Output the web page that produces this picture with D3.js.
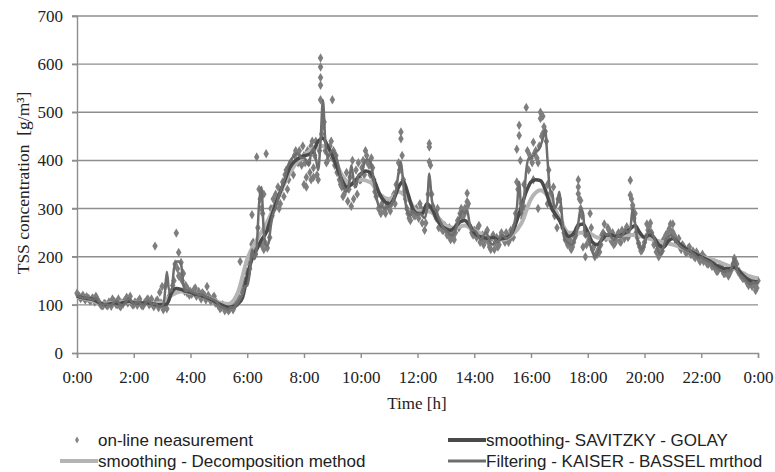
<!DOCTYPE html>
<html><head><meta charset="utf-8">
<script src="https://cdn.jsdelivr.net/npm/d3@7/dist/d3.min.js"></script>
<style>body{margin:0;background:#fff}svg{display:block}</style>
</head><body><svg id="c" width="775" height="472"></svg>
<script>
// ---- data ----
const tickHours = [0,2,4,6,8,10,12,14,16,18,20,22,24];
const tickLabels = ["0:00","2:00","4:00","6:00","8:00","10:00","12:00","14:00","16:00","18:00","20:00","22:00","0:00"];
const yTicks = [0,100,200,300,400,500,600,700];

// on-line measurement, every 5 minutes from 0:00 to 24:00
const measured = [
 124,118,116,114,117,113,110,112,118,108,100,98,
 102,98,104,112,106,100,98,104,108,116,110,104,
 100,104,108,102,98,106,112,104,100,222,110,126,
 138,96,92,118,128,150,249,209,188,165,140,132,
 128,125,135,122,118,125,120,138,115,110,118,105,
 100,95,98,92,88,96,90,100,105,112,125,150,
 190,175,287,215,407,340,225,215,414,260,300,320,
 330,345,310,355,370,340,380,395,410,400,420,390,
 410,365,395,430,385,440,360,613,470,420,400,430,
 405,390,375,360,345,330,375,340,305,320,380,395,
 360,400,420,395,370,385,350,330,300,310,295,305,
 300,310,330,350,395,459,360,320,290,275,300,285,
 290,310,270,255,300,435,330,295,280,260,270,255,
 255,245,235,240,250,275,290,280,300,332,265,250,
 255,240,265,235,225,250,230,215,245,230,220,240,
 240,230,245,235,250,265,423,473,310,350,510,380,
 404,438,420,395,500,492,460,350,330,300,285,260,
 320,270,250,240,225,215,230,245,360,300,220,200,
 250,290,215,200,205,210,245,268,240,255,232,225,
 235,250,230,245,255,240,359,300,290,240,220,214,
 230,268,262,250,225,210,200,220,235,245,252,268,
 251,240,230,220,225,215,210,220,205,200,210,195,
 200,190,195,185,190,180,175,170,183,175,165,170,
 165,175,197,185,170,160,155,150,140,145,150,140,
 150];
// on-line measurement, every 5 minutes from 0:02:30
const measuredHalf = [
 119,113,120,110,115,108,114,106,112,104,98,103,
 99,106,97,108,101,112,96,102,110,104,118,100,
 106,99,112,98,104,110,100,112,96,108,94,104,
 90,140,110,125,140,185,175,160,150,128,125,120,
 122,132,118,128,112,122,110,120,108,115,104,100,
 92,100,88,94,90,100,96,108,115,130,140,170,
 165,200,230,205,260,320,290,230,218,240,285,305,
 315,300,340,325,380,360,395,370,420,395,405,430,
 395,420,375,440,410,370,420,455,480,395,415,440,
 420,410,380,350,325,345,315,365,400,350,330,360,
 385,370,410,390,405,360,325,300,290,320,290,310,
 295,320,310,345,380,410,335,300,280,295,285,300,
 280,300,295,270,330,390,305,285,300,270,255,265,
 245,260,250,235,265,260,300,285,295,310,260,245,
 245,260,230,245,235,255,220,240,215,240,225,250,
 235,250,230,255,240,290,340,400,280,300,420,410,
 395,415,405,430,450,470,440,380,320,345,290,320,
 300,260,235,225,235,220,240,260,320,285,250,225,
 235,260,220,205,215,225,250,240,260,238,250,228,
 245,232,255,238,262,245,320,280,250,228,212,220,
 240,255,270,240,230,215,205,212,228,240,258,250,
 245,230,238,215,222,208,218,205,212,198,205,190,
 205,198,185,192,180,188,170,178,175,165,172,160,
 172,185,190,170,162,155,160,145,150,138,142,135];
// additional measurements at the same instants
const extraTimes  = ["3:35","3:40","5:45","6:10","6:30","6:35","8:00","8:05","8:15","8:20","8:35","8:35","8:35","8:35","9:00","10:30","11:25","12:25","12:25","13:45","13:45","15:30","15:35","15:40","16:05","16:15","16:20","16:25","16:35","17:40","17:40","17:45","19:30","19:35","21:00","23:55"];
const extraValues = [160,155,190,226,300,330,350,345,360,365,594,572,556,526,526,335,445,428,397,314,304,355,452,290,360,300,487,456,310,345,331,317,328,307,268,130];

// Filtering - Kaiser-Bessel, every 5 minutes
const kaiserBessel = [
 120,117,115,113,115,113,112,110,114,108,102,100,
 102,100,99,102,106,108,102,99,102,108,113,107,
 102,104,106,102,100,104,108,104,100,104,98,96,
 97,115,169,128,130,175,190,190,185,140,128,130,
 128,126,124,122,120,122,118,116,114,112,110,106,
 100,96,94,92,90,95,94,98,104,112,122,138,
 140,165,215,195,220,310,345,250,222,228,265,290,
 300,320,335,350,365,385,398,405,410,415,410,405,
 405,400,390,415,425,405,380,440,525,440,405,415,
 420,415,400,380,355,340,335,350,390,360,345,370,
 370,385,400,402,398,375,340,315,303,305,300,302,
 305,310,320,340,375,397,350,310,290,285,295,290,
 288,290,285,280,300,373,320,300,295,280,270,260,
 255,250,245,245,255,270,285,295,290,296,270,255,
 255,250,240,235,245,250,240,228,225,235,230,240,
 245,240,238,242,250,270,300,355,290,320,380,404,
 405,410,418,421,430,445,463,400,340,332,300,310,
 335,290,240,232,228,225,230,245,270,300,290,240,
 250,225,210,200,205,220,240,250,245,248,240,235,
 238,245,240,248,255,250,258,300,270,235,220,215,
 225,245,255,250,240,225,210,205,220,235,240,245,
 240,235,228,222,218,215,212,215,208,205,200,198,
 200,195,193,190,188,182,178,175,172,170,168,172,
 170,180,197,175,165,160,155,150,145,142,148,145,
 150];

// smoothing - Savitzky-Golay, every 10 minutes
const savitzkyGolay = [
 118,115,113,112,108,103,
 101,102,104,103,105,108,
 104,104,104,104,102,100,
 100,102,125,134,132,128,
 126,122,120,117,113,108,
 102,98,95,96,102,115,
 160,195,215,235,250,280,
 310,335,360,385,398,405,
 410,412,420,440,446,430,
 410,385,360,345,350,360,
 372,378,375,355,330,315,
 310,320,345,357,330,300,
 290,290,310,300,280,265,
 258,255,262,272,275,265,
 250,242,240,238,240,236,
 238,240,250,275,305,335,
 355,360,358,340,310,290,
 276,255,242,248,265,268,
 250,230,225,235,245,245,
 242,245,250,258,265,250,
 240,245,240,225,220,232,
 238,230,222,215,210,205,
 200,195,190,183,178,175,
 175,178,170,160,152,148,
 148];

// smoothing - Decomposition method, every 20 minutes
const decomposition = [
 116,112,106, 103,104,106, 105,104,103, 105,120,128,
 125,120,114, 105,102,125, 195,235,268, 310,355,390,
 410,425,430, 410,370,350, 360,355,330, 320,335,320,
 295,295,285, 265,260,265, 255,245,238, 235,245,270,
 320,338,320, 280,250,250, 250,240,238, 240,245,245,
 240,235,230, 225,218,210, 200,195,188, 180,170,160,
 155];

// ---- chart ----
const svg = d3.select("#c");
const x = d3.scaleLinear().domain([0,24]).range([77,758]);
const y = d3.scaleLinear().domain([0,700]).range([353,16]);
const gridCol = "#8e8e8e";
const serif = "'Liberation Serif', 'Times New Roman', serif";

const toH = s => { const [h,m] = s.split(":").map(Number); return h + m/60; };
const series = (arr, stepMin, offMin=0) => arr.map((v,i) => ({t: (offMin + i*stepMin)/60, v}));

// grid
svg.append("g").selectAll("line").data(yTicks.filter(d=>d>0)).join("line")
  .attr("x1", 72).attr("x2", 758).attr("y1", d=>y(d)).attr("y2", d=>y(d))
  .attr("stroke", gridCol).attr("stroke-width", 1.4);

// axes
const yAxis = d3.axisLeft(y).tickValues(yTicks).tickSize(5).tickPadding(9);
const gy = svg.append("g").attr("transform","translate(77,0)").call(yAxis);
const xAxis = d3.axisBottom(x).tickValues(tickHours).tickSize(5).tickPadding(13)
  .tickFormat((d,i)=>tickLabels[i]);
const gx = svg.append("g").attr("transform","translate(0,353)").call(xAxis);
[gx,gy].forEach(g=>{
  g.select(".domain").attr("stroke", gridCol).attr("stroke-width",1.4);
  g.selectAll(".tick line").attr("stroke", gridCol).attr("stroke-width",1.4);
  g.selectAll("text").attr("font-family",serif).attr("font-size",17).attr("fill","#222");
});

// measurement points
const pts = series(measured,5)
  .concat(series(measuredHalf,5,2.5))
  .concat(extraTimes.map((s,i)=>({t:toH(s), v:extraValues[i]})));
const diamond = d3.symbol().type(d3.symbolDiamond).size(26);
svg.append("g").selectAll("path").data(pts).join("path")
  .attr("d", diamond)
  .attr("transform", d=>`translate(${x(d.t)},${y(d.v)})`)
  .attr("fill","#7e7e7e");

const line = d3.line().x(d=>x(d.t)).y(d=>y(d.v)).curve(d3.curveMonotoneX);
svg.append("path").datum(series(decomposition,20)).attr("d",line)
  .attr("fill","none").attr("stroke","#b4b4b4").attr("stroke-width",4).attr("stroke-linejoin","round");
svg.append("path").datum(series(savitzkyGolay,10)).attr("d",line)
  .attr("fill","none").attr("stroke","#4a4a4a").attr("stroke-width",3.5).attr("stroke-linejoin","round");
svg.append("path").datum(series(kaiserBessel,5)).attr("d",line)
  .attr("fill","none").attr("stroke","#6e6e6e").attr("stroke-width",2.5).attr("stroke-linejoin","round");

// axis titles
svg.append("text").attr("x",417).attr("y",409).attr("text-anchor","middle")
  .attr("font-family",serif).attr("font-size",17).attr("fill","#222").text("Time [h]");
svg.append("text").attr("transform","translate(29,183) rotate(-90)").attr("text-anchor","middle")
  .attr("font-family",serif).attr("font-size",17.5).attr("fill","#222")
  .style("white-space","pre")
  .text("TSS concentration\u00a0\u00a0[g/m³]");

// legend
const lg = svg.append("g").attr("font-family","'Liberation Sans', Arial, sans-serif").attr("font-size",17).attr("fill","#222");
lg.append("path").attr("d", d3.symbol().type(d3.symbolDiamond).size(14)).attr("transform","translate(77,440)").attr("fill","#858585");
lg.append("text").attr("x",98).attr("y",446).text("on-line neasurement");
lg.append("line").attr("x1",60).attr("x2",98).attr("y1",461).attr("y2",461).attr("stroke","#b4b4b4").attr("stroke-width",4);
lg.append("text").attr("x",98).attr("y",467).text("smoothing - Decomposition method");
lg.append("line").attr("x1",448).attr("x2",486).attr("y1",440).attr("y2",440).attr("stroke","#4a4a4a").attr("stroke-width",4);
lg.append("text").attr("x",486).attr("y",446).text("smoothing- SAVITZKY - GOLAY");
lg.append("line").attr("x1",448).attr("x2",486).attr("y1",461).attr("y2",461).attr("stroke","#6e6e6e").attr("stroke-width",3);
lg.append("text").attr("x",486).attr("y",467).text("Filtering - KAISER - BASSEL mrthod");
</script></body></html>
